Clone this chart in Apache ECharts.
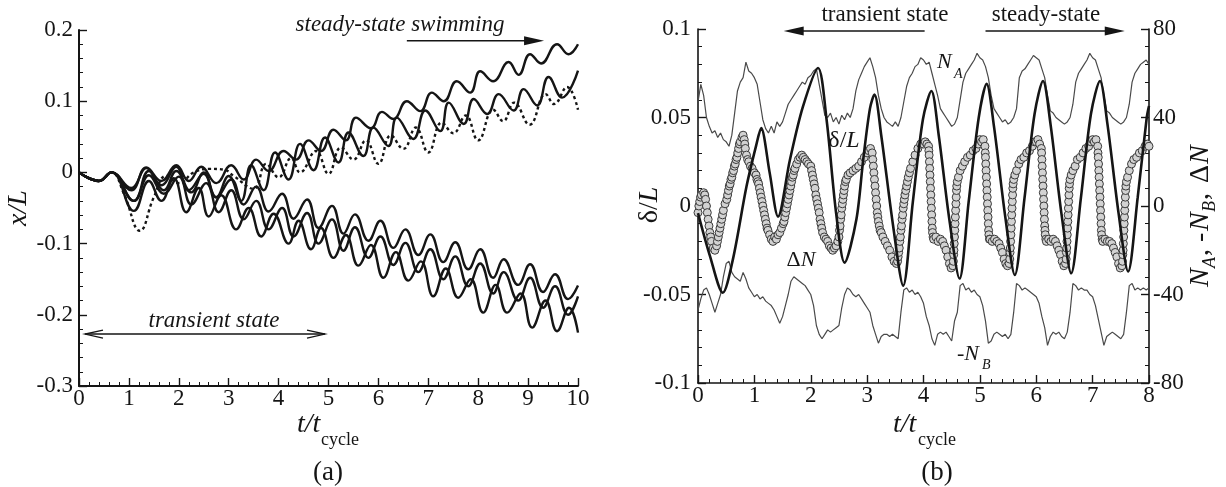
<!DOCTYPE html>
<html><head><meta charset="utf-8">
<script src="https://cdn.jsdelivr.net/npm/echarts@6/dist/echarts.min.js"></script>
<style>html,body{margin:0;padding:0;background:#fff}#c{width:1226px;height:487px}</style>
</head><body><div id="c"></div>
<script>
// ---------- Panel (a): x/L vs t/t_cycle (peaks / troughs) ----------
const upper1 = [[0,0],[0.4,-0.012],[0.65,0],[1.05,-0.025],[1.35,0.007],[1.65,-0.012],[1.95,0.01],[2.2,-0.012],[2.45,0.008],[2.75,-0.015],[3.05,0.01],[3.3,-0.01],[3.55,0.018],[3.8,0.002],[4.1,0.03],[4.35,0.018],[4.6,0.045],[4.85,0.03],[5.1,0.06],[5.35,0.045],[5.55,0.077],[5.85,0.062],[6.07,0.085],[6.3,0.075],[6.57,0.1],[6.84,0.086],[7.07,0.112],[7.31,0.1],[7.57,0.128],[7.84,0.112],[8.04,0.142],[8.3,0.128],[8.61,0.155],[8.81,0.137],[9.04,0.166],[9.26,0.153],[9.58,0.18],[9.81,0.166],[10,0.18]];
const upper2 = [[0,0],[0.4,-0.012],[0.65,0],[1.1,-0.04],[1.4,0.002],[1.7,-0.025],[1.95,0.002],[2.25,-0.028],[2.5,0.0],[2.75,-0.035],[3.0,-0.005],[3.25,-0.04],[3.45,0.01],[3.7,-0.025],[3.93,0.028],[4.2,-0.01],[4.43,0.04],[4.7,0.003],[4.93,0.049],[5.2,0.014],[5.4,0.056],[5.7,0.023],[5.9,0.063],[6.2,0.037],[6.37,0.077],[6.7,0.047],[6.94,0.087],[7.24,0.058],[7.41,0.098],[7.71,0.068],[7.91,0.103],[8.18,0.082],[8.41,0.11],[8.71,0.087],[8.91,0.117],[9.18,0.094],[9.41,0.134],[9.68,0.105],[10,0.143]];
const upperDotted = [[0,0],[0.4,-0.012],[0.65,0],[0.9,-0.03],[1.22,-0.082],[1.5,-0.035],[1.75,-0.005],[2.0,-0.015],[2.3,0.0],[2.6,0.005],[2.9,0.004],[3.1,-0.005],[3.5,-0.023],[3.75,0.012],[4.0,-0.007],[4.25,0.02],[4.43,0.0],[4.75,0.03],[5.0,-0.002],[5.25,0.035],[5.5,0.018],[5.75,0.045],[6.0,0.012],[6.25,0.052],[6.5,0.033],[6.75,0.063],[7.0,0.028],[7.27,0.07],[7.5,0.055],[7.75,0.08],[8.0,0.045],[8.3,0.088],[8.5,0.072],[8.72,0.098],[9.03,0.067],[9.35,0.11],[9.52,0.096],[9.78,0.12],[10,0.088]];
const lower1 = [[0,0],[0.4,-0.012],[0.65,0],[1.05,-0.022],[1.35,0.006],[1.65,-0.018],[1.95,0.008],[2.2,-0.025],[2.5,-0.002],[2.75,-0.035],[3.05,-0.01],[3.3,-0.045],[3.55,-0.02],[3.8,-0.055],[4.07,-0.03],[4.3,-0.065],[4.57,-0.038],[4.8,-0.078],[5.07,-0.047],[5.3,-0.086],[5.53,-0.059],[5.8,-0.096],[6.04,-0.068],[6.3,-0.106],[6.54,-0.08],[6.8,-0.116],[7.04,-0.087],[7.3,-0.126],[7.54,-0.098],[7.8,-0.136],[8.04,-0.108],[8.3,-0.148],[8.51,-0.122],[8.8,-0.158],[9.04,-0.129],[9.3,-0.168],[9.54,-0.143],[9.8,-0.178],[10,-0.159]];
const lower2 = [[0,0],[0.4,-0.012],[0.65,0],[1.1,-0.04],[1.4,-0.004],[1.7,-0.03],[2.0,-0.006],[2.25,-0.045],[2.55,-0.015],[2.8,-0.056],[3.05,-0.025],[3.3,-0.066],[3.55,-0.04],[3.8,-0.08],[4.07,-0.05],[4.3,-0.09],[4.57,-0.057],[4.8,-0.1],[5.07,-0.066],[5.3,-0.11],[5.53,-0.077],[5.8,-0.12],[6.04,-0.09],[6.3,-0.13],[6.54,-0.099],[6.8,-0.14],[7.04,-0.108],[7.3,-0.15],[7.54,-0.118],[7.8,-0.16],[8.04,-0.128],[8.3,-0.17],[8.51,-0.14],[8.8,-0.18],[9.04,-0.148],[9.3,-0.19],[9.54,-0.16],[9.8,-0.2],[10,-0.174]];
const lower3 = [[0,0],[0.4,-0.012],[0.65,0],[1.1,-0.054],[1.4,-0.012],[1.65,-0.04],[1.9,-0.008],[2.15,-0.056],[2.4,-0.022],[2.6,-0.062],[2.85,-0.032],[3.15,-0.08],[3.4,-0.05],[3.65,-0.09],[3.9,-0.058],[4.2,-0.1],[4.4,-0.068],[4.65,-0.108],[4.85,-0.078],[5.1,-0.12],[5.35,-0.088],[5.6,-0.131],[5.85,-0.102],[6.1,-0.148],[6.35,-0.112],[6.6,-0.152],[6.85,-0.125],[7.1,-0.174],[7.35,-0.135],[7.6,-0.176],[7.85,-0.15],[8.1,-0.197],[8.35,-0.158],[8.58,-0.197],[8.85,-0.17],[9.08,-0.218],[9.35,-0.18],[9.58,-0.223],[9.82,-0.19],[10,-0.225]];

// ---------- Panel (b) ----------
const sampleStep = 0.05; // N_A and -N_B sampled every 0.05 t/t_cycle
const NA = [47,55,50,40,36,33,34,31,33,30, 29,27,32,42,52,56,58,65,61,60,
 58,55,47,39,35,33,36,33,38,36, 38,42,46,48,50,52,54,56,55,58,
 59,61,62,55,48,41,40,42,38,40, 37,41,39,42,40,44,52,57,60,63,
 65,67,63,58,50,44,40,38,37,36, 38,36,40,47,54,58,60,63,64,67,
 66,64,65,60,55,50,44,42,40,38, 36,37,40,48,56,60,62,64,66,69,
 67,66,63,58,50,44,42,40,38,39, 37,38,40,44,58,61,62,64,66,68,
 67,66,62,58,50,43,42,40,39,38, 37,38,40,46,56,60,62,64,66,69,
 67,66,62,58,50,43,42,40,39,38, 37,38,40,46,56,60,62,64,65,66, 64];
const negNB = [-47,-42,-38,-37,-40,-44,-48,-44,-40,-32, -26,-25,-30,-32,-33,-34,-30,-33,-37,-39,
 -41,-40,-42,-41,-43,-44,-45,-47,-50,-53, -50,-45,-40,-34,-32,-33,-34,-35,-36,-38,
 -40,-45,-54,-58,-60,-58,-56,-57,-56,-55, -54,-46,-40,-37,-38,-40,-41,-40,-42,-44,
 -46,-48,-54,-58,-62,-59,-58,-58,-59,-58, -59,-60,-48,-38,-37,-39,-38,-40,-39,-41,
 -44,-50,-54,-60,-63,-58,-57,-58,-57,-59, -61,-52,-48,-36,-35,-38,-37,-39,-38,-40,
 -41,-45,-52,-62,-61,-58,-57,-58,-59,-58, -60,-58,-48,-35,-36,-38,-37,-38,-39,-40,
 -41,-44,-50,-55,-63,-59,-57,-58,-57,-59, -60,-57,-48,-35,-36,-38,-37,-38,-38,-40,
 -41,-45,-51,-57,-63,-59,-58,-57,-58,-59, -60,-58,-48,-36,-35,-38,-37,-38,-37,-38, -37];
const deltaL = [[0,-0.004],[0.21,-0.028],[0.44,-0.049],[0.62,-0.03],[0.86,0.011],[1.03,0.034],[1.12,0.044],[1.27,0.019],[1.42,-0.006],[1.63,0.026],[1.86,0.056],[2.13,0.078],[2.28,0.049],[2.45,-0.004],[2.6,-0.032],[2.81,-0.0075],[2.93,0.026],[3.05,0.055],[3.13,0.063],[3.25,0.04],[3.46,-0.011],[3.64,-0.045],[3.81,0.002],[3.99,0.049],[4.14,0.065],[4.27,0.04],[4.46,-0.008],[4.64,-0.041],[4.8,0.002],[4.98,0.05],[5.12,0.069],[5.25,0.045],[5.45,-0.006],[5.62,-0.039],[5.79,0.004],[5.97,0.052],[6.12,0.0706],[6.25,0.047],[6.45,-0.005],[6.62,-0.038],[6.79,0.004],[6.97,0.052],[7.13,0.0706],[7.26,0.047],[7.46,-0.004],[7.63,-0.037],[7.8,0.005],[7.96,0.05],[8.0,0.0565]];
const deltaN = [[0,-3],[0.015,0],[0.03,2],[0.045,4],[0.06,5],[0.1,6],[0.12,5],[0.135,3],[0.15,0],[0.165,-3],[0.18,-6],[0.195,-9],[0.21,-12],[0.225,-14],[0.24,-16],[0.27,-19],[0.3,-20],[0.33,-18],[0.345,-16],[0.36,-14],[0.375,-12],[0.39,-10],[0.405,-8],[0.42,-6],[0.435,-4],[0.45,-2],[0.48,1],[0.51,3],[0.525,5],[0.54,7],[0.555,9],[0.57,10],[0.585,12],[0.6,13],[0.615,15],[0.63,16],[0.645,18],[0.66,19],[0.675,21],[0.69,22],[0.705,24],[0.72,26],[0.735,28],[0.75,29],[0.78,31],[0.8,32],[0.82,30],[0.83,28],[0.84,26],[0.86,23],[0.88,21],[0.9,20],[0.93,18],[0.96,17],
[1.0,15],[1.03,14],[1.045,12],[1.06,11],[1.075,10],[1.09,8],[1.105,6],[1.12,4],[1.135,2],[1.15,0],[1.165,-2],[1.18,-4],[1.195,-6],[1.21,-8],[1.225,-10],[1.24,-11],[1.27,-13],[1.3,-15],[1.33,-16],[1.36,-14],[1.39,-15],[1.42,-13],[1.45,-12],[1.48,-10],[1.51,-8],[1.525,-7],[1.54,-5],[1.555,-3],[1.57,-1],[1.585,1],[1.6,3],[1.615,5],[1.63,7],[1.645,9],[1.66,11],[1.675,13],[1.69,14],[1.705,16],[1.72,17],[1.75,19],[1.78,21],[1.81,22],[1.84,23],[1.87,22],[1.9,21],[1.93,20],[1.96,19],
[2.0,18],[2.015,16],[2.03,14],[2.045,12],[2.06,10],[2.075,8],[2.09,5],[2.105,3],[2.12,1],[2.135,-1],[2.15,-3],[2.165,-6],[2.18,-8],[2.195,-10],[2.21,-12],[2.24,-14],[2.27,-15],[2.3,-16],[2.33,-18],[2.36,-19],[2.39,-20],[2.42,-19],[2.45,-18],[2.48,-16],[2.5,-14],[2.51,-11],[2.52,-9],[2.53,-6],[2.54,-4],[2.55,-1],[2.56,1],[2.57,3],[2.58,5],[2.59,7],[2.6,9],[2.615,11],[2.63,12],[2.66,14],[2.7,15],[2.75,16],[2.8,17],[2.85,18],[2.9,20],[2.95,22],
[3.0,24],[3.03,25],[3.06,26],[3.09,24],[3.1,21],[3.11,18],[3.12,15],[3.13,12],[3.14,9],[3.15,6],[3.16,3],[3.17,0],[3.18,-3],[3.19,-5],[3.2,-7],[3.215,-9],[3.23,-11],[3.25,-12],[3.28,-14],[3.32,-16],[3.36,-18],[3.4,-20],[3.44,-23],[3.48,-25],[3.52,-26],[3.54,-25],[3.55,-23],[3.56,-21],[3.57,-19],[3.58,-16],[3.59,-14],[3.6,-11],[3.61,-9],[3.62,-6],[3.63,-4],[3.64,-1],[3.65,1],[3.66,3],[3.67,5],[3.685,7],[3.7,9],[3.715,11],[3.73,13],[3.75,15],[3.77,17],[3.81,20],[3.85,23],[3.9,26],[3.95,28],
[4.0,28],[4.03,29],[4.06,28],[4.09,27],[4.095,25],[4.1,23],[4.105,20],[4.11,17],[4.115,14],[4.12,11],[4.125,8],[4.13,5],[4.135,2],[4.14,-1],[4.145,-4],[4.15,-7],[4.155,-10],[4.16,-12],[4.17,-14],[4.18,-15],[4.22,-14],[4.26,-16],[4.3,-15],[4.34,-16],[4.37,-18],[4.4,-20],[4.43,-23],[4.46,-26],[4.49,-28],[4.52,-27],[4.53,-25],[4.535,-22],[4.54,-20],[4.545,-17],[4.55,-14],[4.555,-11],[4.56,-8],[4.565,-5],[4.57,-2],[4.575,1],[4.58,4],[4.585,7],[4.59,9],[4.6,11],[4.62,13],[4.65,16],[4.69,18],[4.73,20],[4.78,22],[4.83,23],[4.88,25],[4.93,26],[4.97,28],
[5.0,30],[5.03,29],[5.06,30],[5.09,27],[5.095,24],[5.1,22],[5.105,19],[5.11,16],[5.115,13],[5.12,10],[5.125,7],[5.13,4],[5.135,1],[5.14,-2],[5.145,-5],[5.15,-8],[5.155,-11],[5.16,-13],[5.17,-15],[5.18,-15],[5.22,-16],[5.26,-15],[5.3,-16],[5.34,-17],[5.37,-19],[5.4,-21],[5.43,-24],[5.46,-26],[5.49,-27],[5.52,-26],[5.53,-24],[5.535,-21],[5.54,-19],[5.545,-16],[5.55,-13],[5.555,-10],[5.56,-7],[5.565,-4],[5.57,-1],[5.575,2],[5.58,5],[5.585,8],[5.59,10],[5.6,12],[5.62,14],[5.65,16],[5.69,19],[5.73,21],[5.78,22],[5.83,24],[5.88,25],[5.93,27],[5.97,29],
[6.0,29],[6.03,30],[6.06,28],[6.09,26],[6.095,24],[6.1,21],[6.105,18],[6.11,15],[6.115,12],[6.12,9],[6.125,6],[6.13,3],[6.135,0],[6.14,-3],[6.145,-6],[6.15,-9],[6.155,-11],[6.16,-13],[6.17,-15],[6.18,-16],[6.22,-15],[6.26,-16],[6.3,-15],[6.34,-16],[6.37,-18],[6.4,-20],[6.43,-22],[6.46,-25],[6.49,-27],[6.52,-26],[6.53,-24],[6.535,-21],[6.54,-19],[6.545,-16],[6.55,-13],[6.555,-10],[6.56,-7],[6.565,-4],[6.57,-1],[6.575,2],[6.58,5],[6.585,8],[6.59,10],[6.6,12],[6.62,14],[6.65,16],[6.69,18],[6.73,21],[6.78,22],[6.83,24],[6.88,26],[6.93,27],[6.97,29],
[7.0,30],[7.03,29],[7.06,30],[7.09,27],[7.095,24],[7.1,22],[7.105,19],[7.11,16],[7.115,13],[7.12,10],[7.125,7],[7.13,4],[7.135,1],[7.14,-2],[7.145,-5],[7.15,-8],[7.155,-11],[7.16,-13],[7.17,-15],[7.18,-16],[7.22,-15],[7.26,-16],[7.3,-16],[7.34,-17],[7.37,-19],[7.4,-21],[7.43,-23],[7.46,-26],[7.49,-28],[7.52,-27],[7.53,-25],[7.535,-22],[7.54,-20],[7.545,-17],[7.55,-14],[7.555,-11],[7.56,-8],[7.565,-5],[7.57,-2],[7.575,1],[7.58,4],[7.585,7],[7.59,9],[7.6,11],[7.62,13],[7.65,16],[7.69,19],[7.73,21],[7.78,22],[7.83,24],[7.88,25],[7.93,27],[7.97,28],[8.0,27]];

const xTicksA = {min:0, max:10, interval:1};
const yTicksA = {min:-0.3, max:0.2, interval:0.1};
const xTicksB = {min:0, max:8, interval:1};
const yTicksBL = {min:-0.1, max:0.1, interval:0.05};
const yTicksBR = {min:-80, max:80, interval:40};

// ---------- chart ----------
const FONT = 'Liberation Serif';
const INK = '#151515';
const chart = echarts.init(document.getElementById('c'), null, {renderer:'canvas'});
const tNA = NA.map((v,i)=>[+(i*sampleStep).toFixed(2), v]);
const tNB = negNB.map((v,i)=>[+(i*sampleStep).toFixed(2), v]);

function axisCommon(w){
  return {
    type:'value',
    axisLine:{show:true, onZero:false, lineStyle:{color:INK, width:w}},
    axisTick:{show:true, inside:true, length:8, lineStyle:{color:INK, width:1.4}},
    minorTick:{show:true, splitNumber:5, length:4, lineStyle:{color:INK, width:1}},
    splitLine:{show:false},
    axisLabel:{color:INK, fontFamily:FONT, fontSize:23, margin:6}
  };
}
const xa = Object.assign(axisCommon(2), xTicksA, {gridIndex:0});
xa.axisLabel = Object.assign({}, xa.axisLabel, {margin:1});
const ya = Object.assign(axisCommon(2), yTicksA, {gridIndex:0});
ya.axisLabel = Object.assign({}, ya.axisLabel, {margin:6});
const xb = Object.assign(axisCommon(1.6), xTicksB, {gridIndex:1});
xb.axisLabel = Object.assign({}, xb.axisLabel, {margin:1});
const ybl = Object.assign(axisCommon(1.6), yTicksBL, {gridIndex:1, position:'left'});
ybl.axisLabel = Object.assign({}, ybl.axisLabel, {margin:7});
const ybr = Object.assign(axisCommon(1.6), yTicksBR, {gridIndex:1, position:'right'});
ybr.axisLabel = Object.assign({}, ybr.axisLabel, {margin:4});

function curveA(data, dashed){
  return {type:'line', xAxisIndex:0, yAxisIndex:0, data:data, smooth:0.45, showSymbol:false, symbol:'none',
    lineStyle:{color:INK, width:2.4, type: dashed ? [3,3] : 'solid'}, z:3};
}

const option = {
  animation:false,
  backgroundColor:'#ffffff',
  grid:[{left:79, right:648, top:30, bottom:101},{left:698, right:77, top:29, bottom:104}],
  xAxis:[xa, xb],
  yAxis:[ya, ybl, ybr],
  series:[
    curveA(upper1), curveA(upper2), curveA(upperDotted, true),
    curveA(lower1), curveA(lower2), curveA(lower3),
    {type:'line', xAxisIndex:1, yAxisIndex:2, data:tNA, showSymbol:false, symbol:'none', lineStyle:{color:'#4a4a4a', width:1.2}, z:2},
    {type:'line', xAxisIndex:1, yAxisIndex:2, data:tNB, showSymbol:false, symbol:'none', lineStyle:{color:'#4a4a4a', width:1.2}, z:2},
    {type:'scatter', xAxisIndex:1, yAxisIndex:2, data:deltaN, symbol:'circle', symbolSize:8,
      itemStyle:{color:'#d2d2d2', borderColor:'#3a3a3a', borderWidth:1, opacity:1}, z:3},
    {type:'line', xAxisIndex:1, yAxisIndex:1, data:deltaL, smooth:0.3, showSymbol:false, symbol:'none', lineStyle:{color:INK, width:2.6}, z:4}
  ]
};
chart.setOption(option);

// ---------- annotations (arrows anchored in data coordinates) ----------
const pa = (x,y)=>chart.convertToPixel({xAxisIndex:0, yAxisIndex:0},[x,y]);
const pb = (x,y)=>chart.convertToPixel({xAxisIndex:1, yAxisIndex:1},[x,y]);
function shaft(p1,p2,w){ return {type:'line', shape:{x1:p1[0],y1:p1[1],x2:p2[0],y2:p2[1]}, style:{stroke:INK, lineWidth:w}, z:10}; }
function solidHead(tip, dir, len, hw){
  return {type:'polygon', shape:{points:[[tip[0],tip[1]],[tip[0]-dir*len,tip[1]-hw],[tip[0]-dir*len,tip[1]+hw]]}, style:{fill:INK}, z:10};
}
function openHead(tip, dir, len, hw){
  return {type:'polyline', shape:{points:[[tip[0]-dir*len,tip[1]-hw],[tip[0],tip[1]],[tip[0]-dir*len,tip[1]+hw]]}, style:{stroke:INK, lineWidth:1.3, fill:null}, z:10};
}
const g = [];
// panel a
let s1 = pa(6.57,0.185), e1 = pa(9.32,0.185);
g.push(shaft(s1,[e1[0]-12,e1[1]],1.6), solidHead(e1,1,20,4.5));
let s2 = pa(0.12,-0.227), e2 = pa(4.93,-0.227);
g.push(shaft(s2,e2,1.3), openHead(s2,-1,18,4), openHead(e2,1,18,4));
// panel b
let s3 = pb(4.02,0.0989), e3 = pb(1.52,0.0989);
g.push(shaft(s3,[e3[0]+12,e3[1]],1.6), solidHead(e3,-1,20,4.5));
let s4 = pb(5.1,0.0989), e4 = pb(7.57,0.0989);
g.push(shaft(s4,[e4[0]-12,e4[1]],1.6), solidHead(e4,1,20,4.5));

function txt(x,y,text,size,opts){
  return Object.assign({type:'text', x:x, y:y, z:11, style:Object.assign({text:text, fontFamily:FONT, fontSize:size, fill:INK, align:'left', verticalAlign:'middle'}, opts||{})});
}
// panel a texts
g.push(txt(400,25,'steady-state swimming',23,{fontStyle:'italic', align:'center'}));
g.push(txt(214,321,'transient state',23,{fontStyle:'italic', align:'center'}));
g.push(Object.assign(txt(19,208,'x/L',28,{fontStyle:'italic', align:'center'}),{rotation:Math.PI/2}));
g.push(txt(297,425,'t/t',28,{fontStyle:'italic'}));
g.push(txt(321,440,'cycle',18));
g.push(txt(328,473,'(a)',27,{align:'center'}));
// panel b texts
g.push(txt(885,15,'transient state',23,{align:'center'}));
g.push(txt(1046,15,'steady-state',23,{align:'center'}));
g.push(txt(937,62,'N',22,{fontStyle:'italic'}));
g.push(txt(954,74,'A',14,{fontStyle:'italic'}));
g.push(txt(844,141,'{u|δ}/{i|L}',24,{align:'center', rich:{u:{fontFamily:FONT,fontSize:24}, i:{fontFamily:FONT,fontSize:24,fontStyle:'italic'}}}));
g.push(txt(801,260,'{u|Δ}{i|N}',22,{align:'center', rich:{u:{fontFamily:FONT,fontSize:22}, i:{fontFamily:FONT,fontSize:22,fontStyle:'italic'}}}));
g.push(txt(957,354,'-N',22,{fontStyle:'italic'}));
g.push(txt(982,365,'B',14,{fontStyle:'italic'}));
g.push(txt(893,425,'t/t',28,{fontStyle:'italic'}));
g.push(txt(918,440,'cycle',18));
g.push(txt(937,473,'(b)',27,{align:'center'}));
g.push(Object.assign(txt(650,205,'{u|δ}/{i|L}',28,{align:'center', rich:{u:{fontFamily:FONT,fontSize:28}, i:{fontFamily:FONT,fontSize:28,fontStyle:'italic'}}}),{rotation:Math.PI/2}));
// right axis title, rotated group (reads bottom to top)
g.push({type:'group', x:1201, y:287, rotation:Math.PI/2, z:11, children:[
  {type:'text', x:0, y:0, style:{text:'N', fontFamily:FONT, fontSize:28, fontStyle:'italic', fill:INK, verticalAlign:'middle'}},
  {type:'text', x:19, y:9, style:{text:'A', fontFamily:FONT, fontSize:18, fontStyle:'italic', fill:INK, verticalAlign:'middle'}},
  {type:'text', x:31, y:0, style:{text:', -', fontFamily:FONT, fontSize:28, fill:INK, verticalAlign:'middle'}},
  {type:'text', x:56, y:0, style:{text:'N', fontFamily:FONT, fontSize:28, fontStyle:'italic', fill:INK, verticalAlign:'middle'}},
  {type:'text', x:75, y:9, style:{text:'B', fontFamily:FONT, fontSize:18, fontStyle:'italic', fill:INK, verticalAlign:'middle'}},
  {type:'text', x:87, y:0, style:{text:', ', fontFamily:FONT, fontSize:28, fill:INK, verticalAlign:'middle'}},
  {type:'text', x:104, y:0, style:{text:'Δ', fontFamily:FONT, fontSize:28, fill:INK, verticalAlign:'middle'}},
  {type:'text', x:123, y:0, style:{text:'N', fontFamily:FONT, fontSize:28, fontStyle:'italic', fill:INK, verticalAlign:'middle'}}
]});
chart.setOption({graphic:g});
</script>
</body></html>
